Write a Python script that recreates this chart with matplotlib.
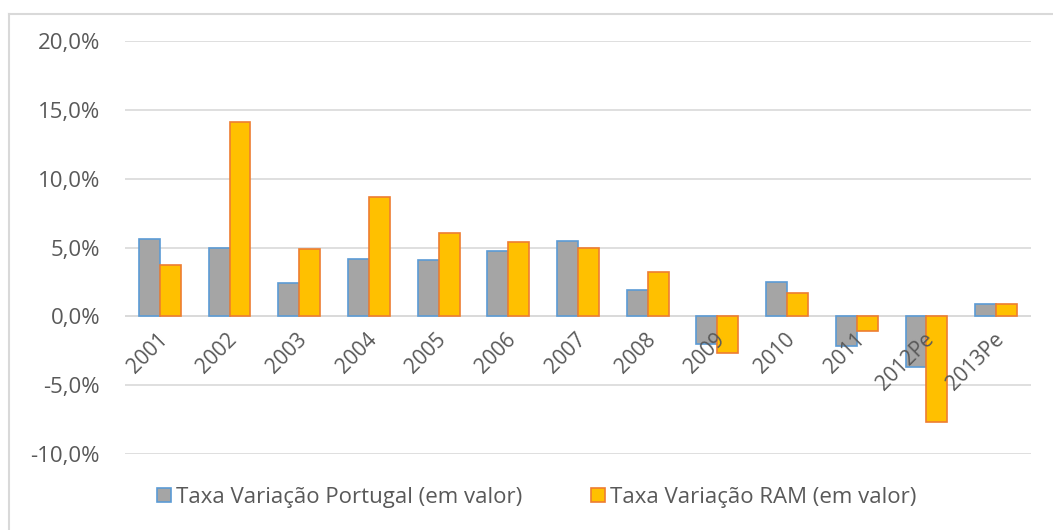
import numpy as np
import matplotlib
matplotlib.use('Agg')
import matplotlib.pyplot as plt
from matplotlib.lines import Line2D
from matplotlib.ticker import FuncFormatter

# Annual change rates (%)
years = ['2001', '2002', '2003', '2004', '2005', '2006', '2007',
         '2008', '2009', '2010', '2011', '2012Pe', '2013Pe']
portugal = [5.65, 5.0, 2.4, 4.2, 4.1, 4.75, 5.5, 1.9, -2.0, 2.5, -2.15, -3.7, 0.9]
ram = [3.7, 14.1, 4.9, 8.7, 6.05, 5.4, 5.0, 3.2, -2.65, 1.7, -1.05, -7.7, 0.9]
labels = ['Taxa Variação Portugal (em valor)', 'Taxa Variação RAM (em valor)']

plt.rcParams['font.family'] = ['Open Sans', 'DejaVu Sans']
text_col = '#595959'

fig = plt.figure(figsize=(10.53, 5.30), dpi=100)
ax = fig.add_axes([125 / 1053, 1 - 454 / 530, 906 / 1053, 413 / 530])

x = np.arange(len(years))
w = 0.3
ax.bar(x - w / 2, portugal, w, color='#A5A5A5', edgecolor='#5B9BD5',
       linewidth=1.2, label=labels[0], zorder=3)
ax.bar(x + w / 2, ram, w, color='#FFC000', edgecolor='#ED7D31',
       linewidth=1.2, label=labels[1], zorder=3)

ax.set_xlim(-0.5, len(years) - 0.5)
ax.set_ylim(-10, 20)
ax.set_yticks(np.arange(-10, 21, 5))
ax.yaxis.set_major_formatter(FuncFormatter(lambda v, p: f'{v:.1f}%'.replace('.', ',')))
ax.grid(axis='y', color='#D9D9D9', linewidth=1.2, zorder=0)
ax.axhline(0, color='#D9D9D9', linewidth=1.2, zorder=1)
for s in ax.spines.values():
    s.set_visible(False)
ax.tick_params(axis='y', length=0, pad=18, labelsize=16, labelcolor=text_col)
ax.set_xticks([])

# rotated category labels next to the zero line
for xi, lab in zip(x, years):
    ax.annotate(lab, (xi - 0.04, 0), xytext=(0, -9), textcoords='offset points',
                rotation=45, ha='right', va='top', fontsize=15, color=text_col,
                rotation_mode='anchor')

fig.legend(handles=[
    Line2D([], [], marker='s', ls='', ms=9.5, mfc='#A5A5A5', mec='#5B9BD5', mew=1.2),
    Line2D([], [], marker='s', ls='', ms=9.5, mfc='#FFC000', mec='#ED7D31', mew=1.2)],
    labels=labels, loc='center', bbox_to_anchor=(536 / 1053, 1 - 497 / 530),
    ncol=2, frameon=False, fontsize=16, labelcolor=text_col,
    handletextpad=0.15, columnspacing=3.0, handlelength=0.8)

# chart border (top and left edges visible)
fig.add_artist(Line2D([9 / 1053, 9 / 1053], [0, 1 - 14 / 530],
                      transform=fig.transFigure, color='#D9D9D9', lw=1.5))
fig.add_artist(Line2D([9 / 1053, 1], [1 - 14 / 530, 1 - 14 / 530],
                      transform=fig.transFigure, color='#D9D9D9', lw=1.5))

fig.savefig('out.png', dpi=100)
